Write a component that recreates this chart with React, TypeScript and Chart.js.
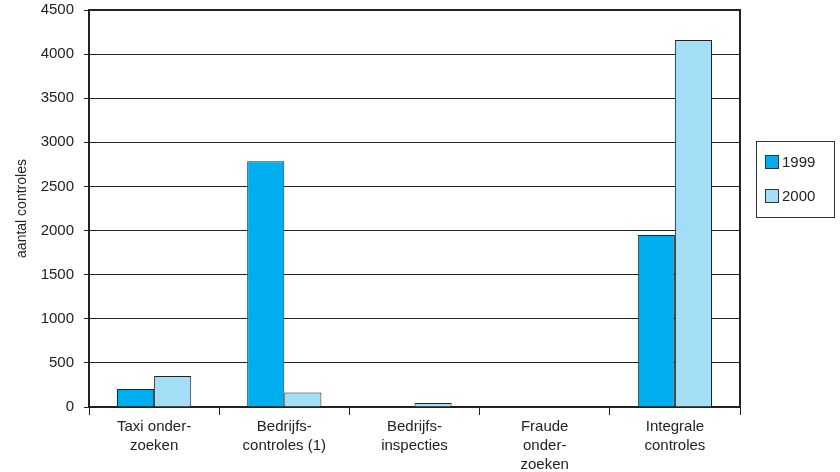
import React, { useEffect, useRef } from "react";
import { Chart, registerables } from "chart.js";

Chart.register(...registerables);

const categories: string[][] = [
  ["Taxi onder-", "zoeken"],
  ["Bedrijfs-", "controles (1)"],
  ["Bedrijfs-", "inspecties"],
  ["Fraude", "onder-", "zoeken"],
  ["Integrale", "controles"],
];
const series1999: number[] = [205, 2785, 0, 0, 1950];
const series2000: number[] = [350, 165, 45, 0, 4160];
const seriesLabels: string[] = ["1999", "2000"];
const seriesColors: string[] = ["#00aeef", "#a4ddf6"];
const yTitle = "aantal controles";

const FONT = "'Liberation Sans', Arial, Helvetica, sans-serif";

const frame = {
  id: "frame",
  afterDraw(chart: any) {
    const { ctx, chartArea: a } = chart;
    ctx.save();
    ctx.strokeStyle = "#222";
    ctx.lineWidth = 2;
    ctx.beginPath();
    ctx.moveTo(a.left, a.top);
    ctx.lineTo(a.right, a.top);
    ctx.lineTo(a.right, a.bottom);
    ctx.stroke();
    ctx.restore();
  },
};

export default function App() {
  const ref = useRef<HTMLCanvasElement | null>(null);
  useEffect(() => {
    if (!ref.current) return;
    const chart = new Chart(ref.current, {
      type: "bar",
      data: {
        labels: categories,
        datasets: [
          {
            label: seriesLabels[0],
            data: series1999,
            backgroundColor: seriesColors[0],
            borderColor: "#222",
            borderWidth: 1,
            categoryPercentage: 0.57,
            barPercentage: 1,
          },
          {
            label: seriesLabels[1],
            data: series2000,
            backgroundColor: seriesColors[1],
            borderColor: "#222",
            borderWidth: 1,
            categoryPercentage: 0.57,
            barPercentage: 1,
          },
        ],
      },
      options: {
        animation: false,
        responsive: false,
        maintainAspectRatio: false,
        layout: { padding: { left: 0, right: 100, top: 10, bottom: 0 } },
        plugins: {
          legend: { display: false },
          tooltip: { enabled: false },
        },
        scales: {
          x: {
            offset: true,
            grid: {
              offset: true,
              drawOnChartArea: false,
              drawTicks: true,
              tickLength: 8,
              color: "#222",
              lineWidth: 1,
            },
            border: { display: true, color: "#222", width: 2 },
            ticks: {
              color: "#222",
              font: { family: FONT, size: 15, lineHeight: 1.27 },
              padding: 2,
              maxRotation: 0,
              autoSkip: false,
            },
            afterFit(scale: any) {
              scale.height = 65;
              scale.paddingLeft = 0;
              scale.paddingRight = 0;
            },
          },
          y: {
            min: 0,
            max: 4500,
            ticks: {
              stepSize: 500,
              color: "#222",
              font: { family: FONT, size: 15 },
              padding: 10,
              callback: (v: any) => String(v),
            },
            grid: {
              color: "#222",
              lineWidth: 1,
              tickLength: 5,
            },
            border: { display: true, color: "#222", width: 2 },
            title: {
              display: true,
              text: yTitle,
              color: "#222",
              font: { family: FONT, size: 14 },
              padding: { top: 14, bottom: 0 },
            },
            afterFit(scale: any) {
              scale.width = 89;
              scale.paddingTop = 0;
              scale.paddingBottom = 0;
            },
          },
        },
      },
      plugins: [frame],
    });
    return () => chart.destroy();
  }, []);

  return (
    <div style={{ position: "fixed", left: 0, top: 0, width: 840, height: 472, background: "#fff" }}>
      <canvas ref={ref} width={840} height={472} style={{ width: 840, height: 472, display: "block" }} />
      <div
        style={{
          position: "absolute",
          left: 756,
          top: 141,
          width: 79,
          height: 77,
          border: "1px solid #333",
          boxSizing: "border-box",
          fontFamily: FONT,
          fontSize: 15,
          color: "#222",
        }}
      >
        {seriesLabels.map((l, i) => (
          <div
            key={l}
            style={{ position: "absolute", left: 8, top: 11 + i * 34, display: "flex", alignItems: "center" }}
          >
            <span
              style={{
                display: "inline-block",
                width: 12,
                height: 12,
                background: seriesColors[i],
                border: "1px solid #333",
                marginRight: 3,
              }}
            />
            <span>{l}</span>
          </div>
        ))}
      </div>
    </div>
  );
}
